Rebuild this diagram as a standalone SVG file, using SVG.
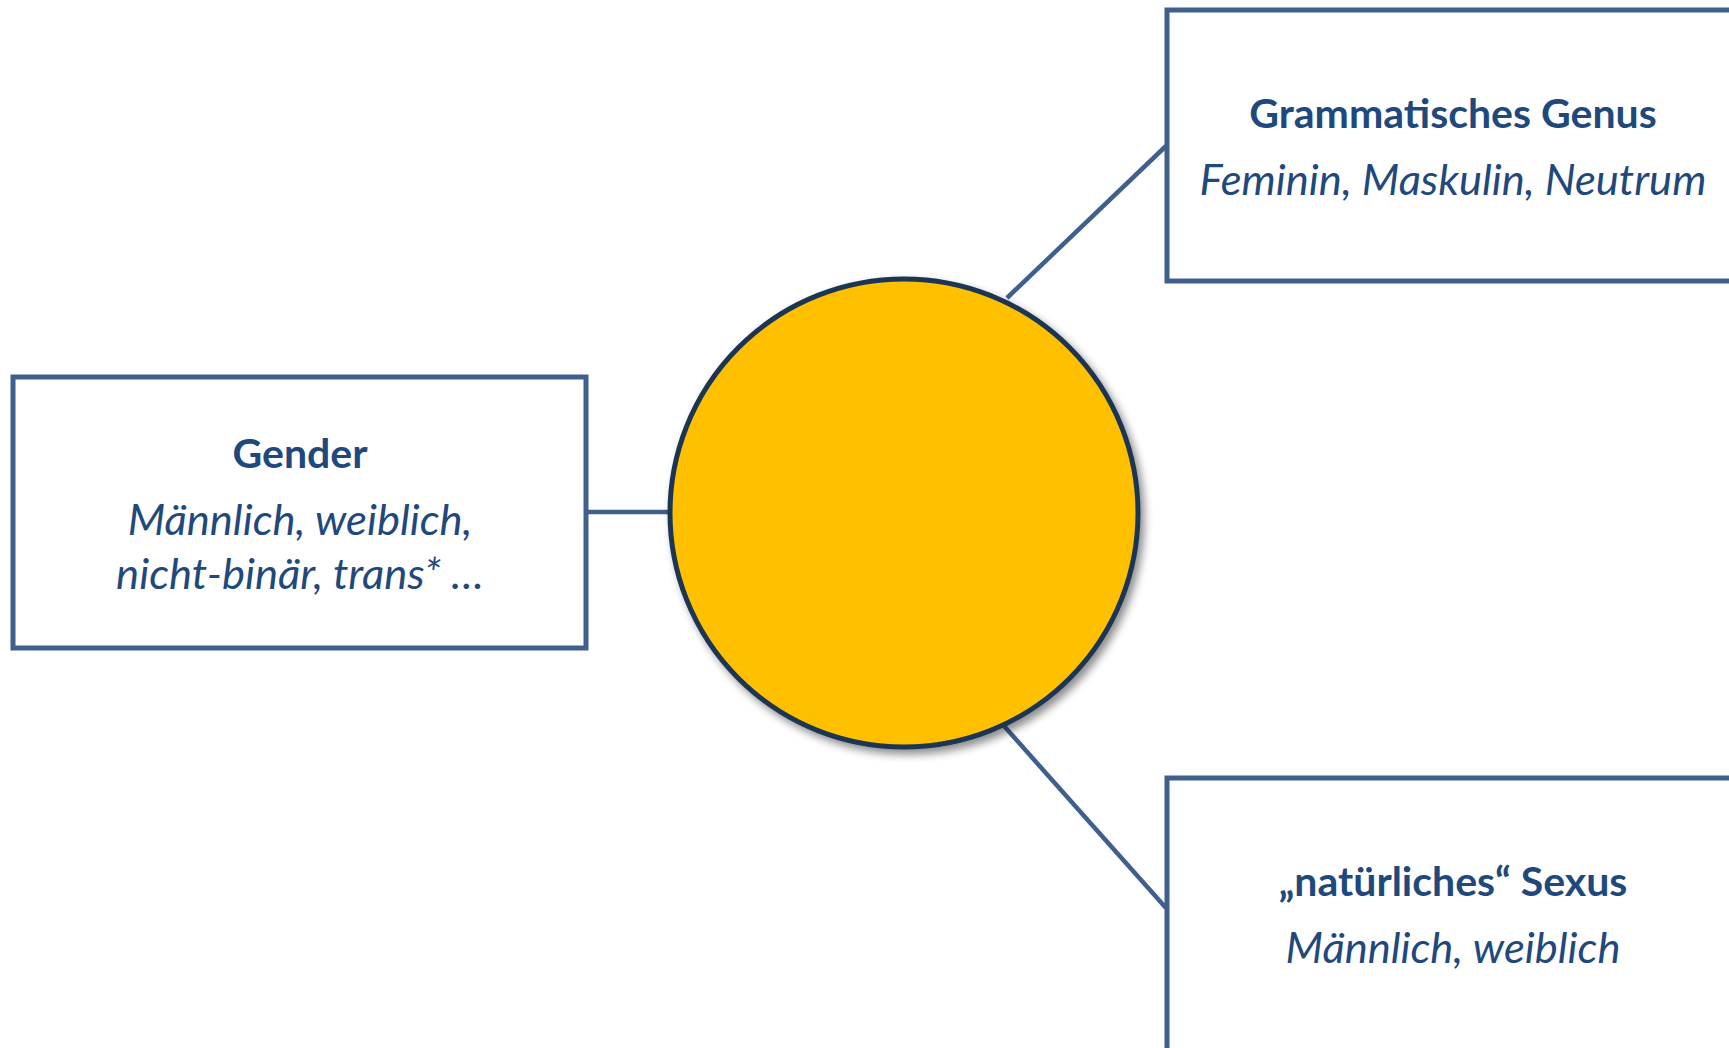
<svg xmlns="http://www.w3.org/2000/svg" width="1729" height="1048" viewBox="0 0 1729 1048">
<style>
.box{fill:#FFFFFF;stroke:#3F5F8C;stroke-width:5}
.con{stroke:#3F5F8C;stroke-width:4.5;fill:none}
.t{font-family:Lato,"Open Sans","Liberation Sans",sans-serif;fill:#1F497D;text-anchor:middle}
.b{font-weight:bold;font-size:41px}
.i{font-style:italic;font-size:43.5px}
</style>
<defs>
<filter id="sh" x="-20%" y="-20%" width="140%" height="140%">
<feGaussianBlur in="SourceAlpha" stdDeviation="4"/>
<feOffset dx="4" dy="5" result="o"/>
<feComponentTransfer><feFuncA type="linear" slope="0.45"/></feComponentTransfer>
<feMerge><feMergeNode/><feMergeNode in="SourceGraphic"/></feMerge>
</filter>
</defs>
<rect width="1729" height="1048" fill="#FFFFFF"/>
<g id="connectors">
<line class="con" x1="587" y1="512" x2="670" y2="512"/>
<line class="con" x1="1007" y1="298" x2="1166" y2="146"/>
<line class="con" x1="1004" y1="726" x2="1166" y2="908"/>
</g>
<g id="center">
<circle cx="904" cy="513" r="234" fill="#FFC000" stroke="#1C3553" stroke-width="5" filter="url(#sh)"/>
</g>
<g id="gender">
<rect class="box" x="13" y="377" width="573" height="271"/>
<text class="t b" x="300" y="468">Gender</text>
<text class="t i" x="300" y="535">Männlich, weiblich,</text>
<text class="t i" x="300" y="589">nicht-binär, trans* …</text>
</g>
<g id="genus">
<rect class="box" x="1167" y="10" width="600" height="271"/>
<text class="t b" x="1453" y="128">Grammatisches Genus</text>
<text class="t i" x="1453" y="195">Feminin, Maskulin, Neutrum</text>
</g>
<g id="sexus">
<rect class="box" x="1167" y="778" width="600" height="300"/>
<text class="t b" x="1453" y="896">„natürliches“ Sexus</text>
<text class="t i" x="1453" y="963">Männlich, weiblich</text>
</g>
</svg>
